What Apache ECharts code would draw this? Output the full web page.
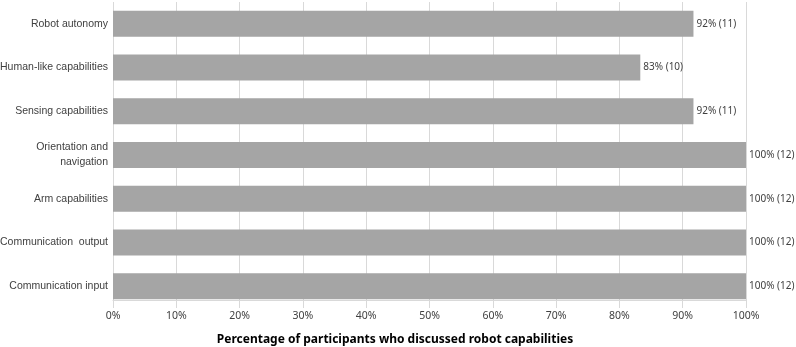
<!DOCTYPE html>
<html><head><meta charset="utf-8">
<script src="https://cdn.jsdelivr.net/npm/echarts@6/dist/echarts.min.js"></script>
<style>html,body{margin:0;padding:0;background:#fff}#c{width:796px;height:347px}</style>
</head><body><div id="c"></div>
<script>
const categories = ["Robot autonomy","Human-like capabilities","Sensing capabilities","Orientation and\nnavigation","Arm capabilities","Communication  output","Communication input"];
const percentages = [91.7, 83.3, 91.7, 100, 100, 100, 100];
const counts = [11, 10, 11, 12, 12, 12, 12];
const tickLabels = ["0%","10%","20%","30%","40%","50%","60%","70%","80%","90%","100%"];
const axisTitle = "Percentage of participants who discussed robot capabilities";

const font = "'Noto Sans', sans-serif";
const font2 = "'Liberation Sans', Arial, sans-serif";
const chart = echarts.init(document.getElementById('c'), null, {renderer:'canvas'});
chart.setOption({
  animation:false,
  textStyle:{fontFamily:font},
  title:{text:axisTitle,left:390,top:329,textAlign:'center',
    textStyle:{fontFamily:font,fontSize:12,fontWeight:'bold',color:'#000'}},
  grid:{left:113,right:50,top:2,bottom:39,containLabel:false,outerBoundsMode:'none'},
  xAxis:{type:'value',min:0,max:100,interval:10,offset:-8,
    axisLine:{show:true,lineStyle:{color:'#d9d9d9',width:1}},
    axisTick:{show:false},
    splitLine:{show:true,lineStyle:{color:'#d9d9d9',width:1}},
    axisLabel:{margin:11,color:'#404040',fontSize:10.5,fontFamily:font,
      formatter:(v)=>tickLabels[Math.round(v/10)]}},
  yAxis:{type:'category',data:categories,inverse:true,
    axisLine:{show:false},axisTick:{show:false},
    axisLabel:{margin:5,color:'#404040',fontSize:10.5,fontFamily:font2,lineHeight:15}},
  series:[{type:'bar',data:percentages,barCategoryGap:'40.5%',
    itemStyle:{color:'#a5a5a5'},
    label:{show:true,position:'right',distance:3,color:'#404040',fontSize:10,fontFamily:font,
      formatter:(p)=>Math.round(p.value)+'% ('+counts[p.dataIndex]+')'}}]
});
</script></body></html>
